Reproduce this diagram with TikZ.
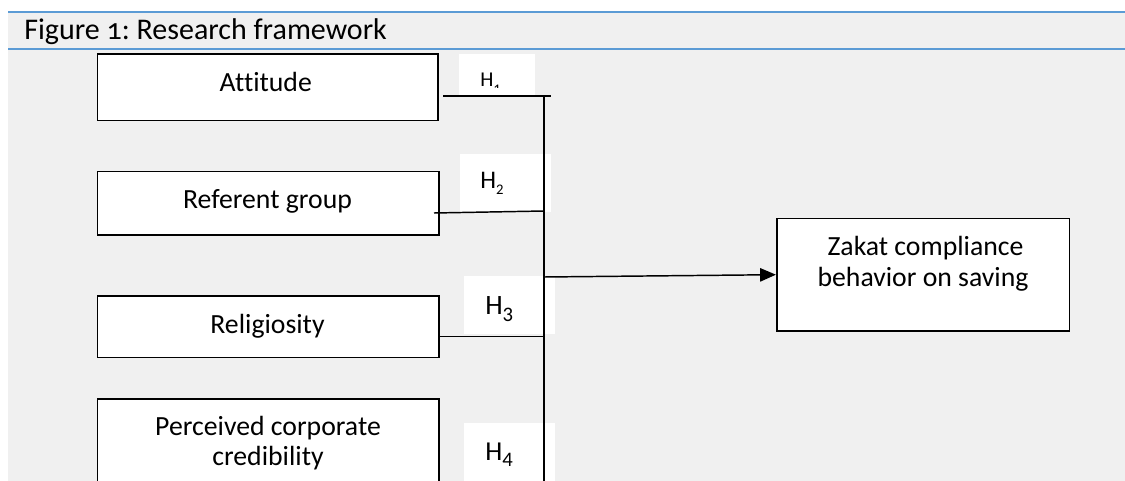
\documentclass[tikz,border=0pt]{standalone}
\usepackage{fontspec}
\setmainfont{Carlito}[Ligatures={NoCommon}]
\usetikzlibrary{arrows.meta}
\definecolor{bandgrey}{HTML}{F0F0F0}
\definecolor{ruleblue}{HTML}{5B9BD5}
\frenchspacing
\begin{document}
\begin{tikzpicture}[x=0.75pt,y=-0.75pt,
  box/.style={draw=black,line width=1.2pt,fill=white,inner sep=0pt,rectangle},
  hbox/.style={fill=white,draw=none,inner sep=0pt,rectangle},
  txt/.style={inner sep=0pt,anchor=base,font=\fontsize{20.8}{24}\selectfont},
  hlab/.style={inner sep=0pt,anchor=base west},
  link/.style={line width=1.1pt,draw=black},
  band/.style={ruleblue,line width=1pt}]
\clip (0,0) rectangle (1125,481);
\fill[white] (0,0) rectangle (1125,481);
\fill[bandgrey] (8,12) rectangle (1125,481);
\draw[band] (8,12) -- (1125,12);
\draw[band] (8,49) -- (1125,49);
\node[hlab,font=\fontsize{22.5}{26}\selectfont] (title) at (24,39.3) {Figure {\addfontfeatures{Numbers=OldStyle}1}: Research framework};

% boxes
\node[box,minimum width=340.2*0.75pt,minimum height=66.4*0.75pt] (att) at (267.6,87.5) {};
\node[box,minimum width=341.5*0.75pt,minimum height=63.3*0.75pt] (ref) at (268.2,203.3) {};
\node[box,minimum width=341.5*0.75pt,minimum height=61.7*0.75pt] (rel) at (268.2,326.8) {};
\node[box,minimum width=341.5*0.75pt,minimum height=121*0.75pt] (per) at (268.2,459.5) {};
\node[box,minimum width=292.6*0.75pt,minimum height=112.7*0.75pt] (zak) at (923,274.7) {};

% box texts
\node[txt] (tatt) at (265.8,91.7) {Attitude};
\node[txt] (tref) at (267.5,208.3) {Referent group};
\node[txt] (trel) at (267.5,333.3) {Religiosity};
\node[txt] (tper1) at (268,435) {Perceived corporate};
\node[txt] (tper2) at (268,465) {credibility};
\node[txt] (tzak1) at (925.5,255) {Zakat compliance};
\node[txt] (tzak2) at (923,286.7) {behavior on saving};

% hypothesis label boxes
\node[hbox,minimum width=76*0.75pt,minimum height=42*0.75pt] (h1box) at (497,75) {};
\node[hbox,minimum width=91*0.75pt,minimum height=58*0.75pt] (h2box) at (505.5,183) {};
\node[hbox,minimum width=91*0.75pt,minimum height=58*0.75pt] (h3box) at (509.5,305) {};
\node[hbox,minimum width=91*0.75pt,minimum height=97*0.75pt] (h4box) at (509.5,471.5) {};

\begin{scope}
  \clip (459,54) rectangle (535,88);
  \node[hlab,font=\fontsize{15.8}{18}\selectfont] (h1) at (480,86.7) {H\raisebox{-6pt}{\fontsize{11}{12}\selectfont 1}};
\end{scope}
\node[hlab,font=\fontsize{19}{22}\selectfont] (h2) at (480,188.3) {H\raisebox{-4.3pt}{\fontsize{11}{12}\selectfont 2}};
\node[hlab,font=\fontsize{21}{24}\selectfont] (h3) at (485,314.3) {H\raisebox{-5.5pt}{\fontsize{15.5}{17}\selectfont 3}};
\node[hlab,font=\fontsize{20.5}{24}\selectfont] (h4) at (485,460) {H\raisebox{-4.5pt}{\fontsize{15.5}{17}\selectfont 4}};

% connectors
\coordinate (a1) at (443,96);
\coordinate (a2) at (551,96);
\coordinate (stop) at (544,96);
\coordinate (sbot) at (544,490);
\coordinate (r1) at (434,213);
\coordinate (r2) at (544,211);
\coordinate (g1) at (439,336.7);
\coordinate (g2) at (544,336.7);
\coordinate (j) at (544,277);
\draw[link] (a1) -- (a2);
\draw[link] (stop) -- (sbot);
\draw[link] (r1) -- (r2);
\draw[link] (g1) -- (g2);
\draw[link,-{Triangle[length=11.8pt,width=10pt]}] (j) -- (zak.west);
\end{tikzpicture}
\end{document}
